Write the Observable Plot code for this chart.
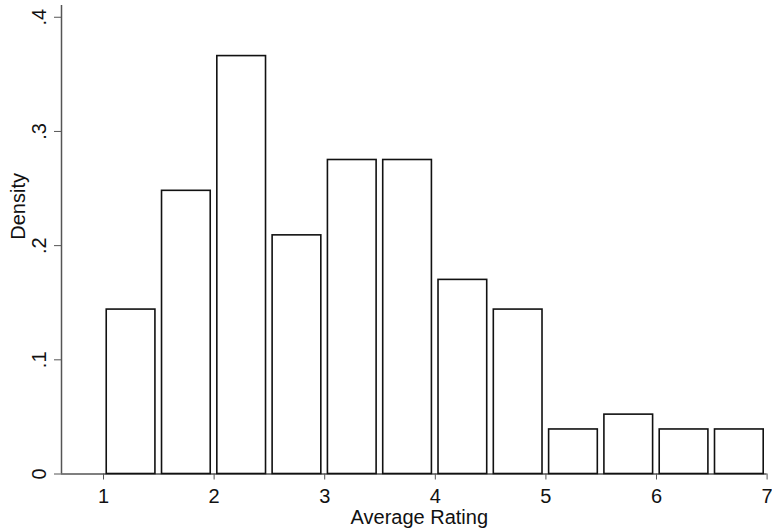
<!DOCTYPE html>
<html>
<head>
<meta charset="utf-8">
<script src="https://cdn.jsdelivr.net/npm/d3@7"></script>
<script src="https://cdn.jsdelivr.net/npm/@observablehq/plot@0.6"></script>
<style>
  html, body { margin: 0; padding: 0; background: #fff; }
  #chart svg { display: block; }
</style>
</head>
<body>
<div id="chart"></div>
<script>
// Histogram bins (Average Rating) and their densities
const binLo = [1.0, 1.5, 2.0, 2.5, 3.0, 3.5, 4.0, 4.5, 5.0, 5.5, 6.0, 6.5];
const binHi = [1.5, 2.0, 2.5, 3.0, 3.5, 4.0, 4.5, 5.0, 5.5, 6.0, 6.5, 7.0];
const density = [0.144, 0.248, 0.366, 0.209, 0.275, 0.275, 0.170, 0.144, 0.039, 0.052, 0.039, 0.039];
const xTicks = [1, 2, 3, 4, 5, 6, 7];
const yTicks = [0, 0.1, 0.2, 0.3, 0.4];
const yTickLabels = ["0", ".1", ".2", ".3", ".4"];
const xTitle = "Average Rating";
const yTitle = "Density";

const bins = binLo.map((lo, i) => ({lo, hi: binHi[i], d: density[i]}));

const axisColor = "#555";
const font = "Liberation Sans, Arial, Helvetica, sans-serif";

const chart = Plot.plot({
  width: 772,
  height: 532,
  marginLeft: 61,
  marginRight: 5.4,
  marginTop: 5,
  marginBottom: 58.5,
  style: {fontFamily: font, background: "#fff", color: "#000", overflow: "visible"},
  x: {domain: [0.62, 7.0]},
  y: {domain: [0, 0.4103]},
  marks: [
    Plot.ruleX([0.62], {stroke: axisColor, strokeWidth: 1.5}),
    Plot.ruleY([0], {stroke: axisColor, strokeWidth: 1.5}),
    Plot.rectY(bins, {
      x1: "lo", x2: "hi", y1: 0, y2: "d",
      fill: "#fff", stroke: "#111", strokeWidth: 1.6,
      insetLeft: 3.2, insetRight: 3.4
    }),
    Plot.axisX({
      ticks: xTicks, tickSize: 6, tickPadding: 9,
      tickFormat: d => String(d),
      stroke: axisColor, fill: "#111", fontSize: 20, label: null
    }),
    Plot.axisY({
      ticks: yTicks, tickSize: 7, tickPadding: 9, tickRotate: -90,
      tickFormat: d => yTickLabels[yTicks.indexOf(d)],
      stroke: axisColor, fill: "#111", fontSize: 20, label: null
    }),
    Plot.text([xTitle], {
      frameAnchor: "bottom", dy: 44, dx: 5, fontSize: 20, fill: "#111", lineAnchor: "middle"
    }),
    Plot.text([yTitle], {
      frameAnchor: "left", dx: -43.4, rotate: -90, fontSize: 20, fill: "#111", lineAnchor: "middle"
    })
  ]
});
document.getElementById("chart").appendChild(chart);
</script>
</body>
</html>
